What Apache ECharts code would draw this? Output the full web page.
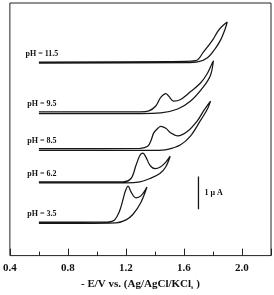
<!DOCTYPE html>
<html>
<head>
<meta charset="utf-8">
<script src="https://cdn.jsdelivr.net/npm/echarts@6/dist/echarts.min.js"></script>
<style>
  html, body { margin: 0; padding: 0; background: #fff; }
  #cv_chart { width: 274px; height: 295px; }
</style>
</head>
<body>
<div id="cv_chart"></div>
<script>
// potential (-E / V) and current (uA, offset per trace), forward scan then return scan
const phLabels = ['pH = 11.5', 'pH = 9.5', 'pH = 8.5', 'pH = 6.2', 'pH = 3.5'];

const ph115 = [
  [0.60, 5.90], [1.50, 5.91], [1.68, 5.94], [1.735, 6.21], [1.796, 6.56], [1.831, 6.82], [1.858, 6.97], [1.898, 7.12],
  [1.884, 6.91], [1.851, 6.56], [1.817, 6.32], [1.762, 6.03], [1.70, 5.91], [1.61, 5.88], [0.60, 5.87]
];
const ph95 = [
  [0.60, 4.38], [1.30, 4.38], [1.358, 4.41], [1.406, 4.56], [1.44, 4.82], [1.475, 4.94], [1.495, 4.86], [1.529, 4.71],
  [1.577, 4.76], [1.646, 5.00], [1.714, 5.26], [1.762, 5.56], [1.796, 5.88], [1.803, 5.94],
  [1.783, 5.50], [1.735, 5.15], [1.646, 4.71], [1.557, 4.47], [1.44, 4.35], [1.30, 4.33], [0.60, 4.33]
];
const ph85 = [
  [0.60, 3.26], [1.30, 3.27], [1.35, 3.33], [1.372, 3.50], [1.392, 3.74], [1.42, 3.88], [1.44, 3.94], [1.475, 3.88],
  [1.509, 3.74], [1.557, 3.65], [1.625, 3.79], [1.694, 4.12], [1.735, 4.41], [1.783, 4.71],
  [1.762, 4.47], [1.714, 4.12], [1.646, 3.65], [1.577, 3.38], [1.488, 3.24], [1.40, 3.21], [0.60, 3.21]
];
const ph62 = [
  [0.60, 2.25], [1.18, 2.25], [1.235, 2.35], [1.27, 2.76], [1.297, 3.06], [1.317, 3.12], [1.338, 3.00], [1.365, 2.76],
  [1.40, 2.65], [1.44, 2.71], [1.475, 2.85], [1.505, 3.03],
  [1.475, 2.71], [1.434, 2.50], [1.365, 2.35], [1.297, 2.25], [1.20, 2.22], [0.60, 2.22]
];
const ph35 = [
  [0.60, 1.02], [1.08, 1.03], [1.12, 1.08], [1.153, 1.32], [1.18, 1.71], [1.194, 1.94], [1.215, 2.12], [1.235, 1.94],
  [1.269, 1.76], [1.303, 1.82], [1.345, 2.09],
  [1.303, 1.62], [1.249, 1.26], [1.201, 1.09], [1.132, 1.00], [0.60, 0.98]
];
const traces = [ph115, ph95, ph85, ph62, ph35];

// 1 uA scale bar
const scaleBarE = 1.70;
const scaleBarI0 = 1.41;
const scaleBarText = '1 μ A';

const xTicks = [0.4, 0.8, 1.2, 1.6, 2.0];
const xMin = 0.4, xMax = 2.2;
const yMin = 0, yMax = 7.7;

const serif = 'Liberation Serif';
const lineColor = '#161616';

let chart = echarts.init(document.getElementById('cv_chart'));

function curveSeries(points, label) {
  return {
    type: 'line',
    smooth: 0.35,
    symbol: 'circle',
    symbolSize: 0,
    silent: true,
    lineStyle: { color: lineColor, width: 1.25 },
    data: points.map((p, i) => i === 0 ? {
      value: p,
      label: {
        show: true, formatter: label, position: 'top', distance: 4, offset: [3, 0],
        fontFamily: serif, fontWeight: 'bold', fontSize: 8, color: '#111'
      }
    } : { value: p })
  };
}

let series = traces.map((t, i) => curveSeries(t, phLabels[i]));
series.push({
  type: 'line',
  symbol: 'circle',
  symbolSize: 0,
  silent: true,
  lineStyle: { color: lineColor, width: 1.3 },
  data: [
    { value: [scaleBarE, scaleBarI0] },
    {
      value: [scaleBarE, scaleBarI0 + 0.5],
      label: {
        show: true, formatter: scaleBarText, position: 'right', distance: 6,
        fontFamily: serif, fontWeight: 'bold', fontSize: 8, color: '#111'
      }
    },
    { value: [scaleBarE, scaleBarI0 + 1] }
  ]
});

let option = {
  animation: false,
  grid: {
    left: 8, right: 3, top: 3, bottom: 30,
    show: true, borderColor: '#222', borderWidth: 1, backgroundColor: 'transparent'
  },
  xAxis: {
    type: 'value',
    min: xMin, max: xMax, interval: 0.4,
    axisLine: { show: false },
    axisTick: { show: true, inside: true, length: 7, lineStyle: { color: '#222' } },
    minorTick: { show: true, splitNumber: 2, length: 4, lineStyle: { color: '#222' } },
    splitLine: { show: false },
    axisLabel: {
      margin: 7, showMaxLabel: false,
      fontFamily: serif, fontWeight: 'bold', fontSize: 11, color: '#111',
      formatter: v => xTicks.some(t => Math.abs(t - v) < 1e-6) ? v.toFixed(1) : ''
    },
    name: '- E/V vs. (Ag/AgCl/KCl{s|s} )',
    nameLocation: 'middle',
    nameGap: 17,
    nameTextStyle: {
      fontFamily: serif, fontWeight: 'bold', fontSize: 11, color: '#111',
      rich: { s: { fontFamily: serif, fontWeight: 'bold', fontSize: 6, color: '#111', padding: [6, 0, 0, 0] } }
    }
  },
  yAxis: {
    type: 'value',
    min: yMin, max: yMax,
    axisLine: { show: false },
    axisTick: { show: false },
    axisLabel: { show: false },
    splitLine: { show: false }
  },
  series: series
};

option && chart.setOption(option);
</script>
</body>
</html>
